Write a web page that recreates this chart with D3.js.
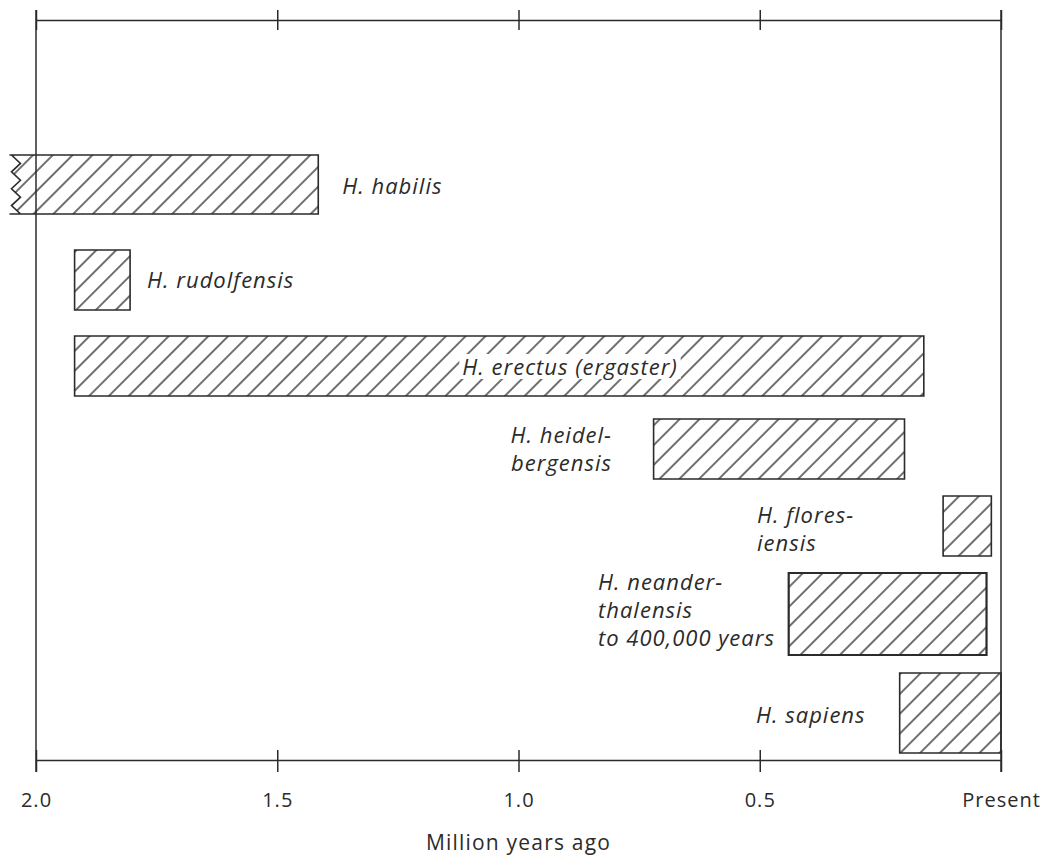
<!DOCTYPE html>
<html>
<head>
<meta charset="utf-8">
<script src="https://cdn.jsdelivr.net/npm/d3@7"></script>
<style>
  body { margin: 0; background: #fff; }
  svg text { font-family: "Open Sans", "Noto Sans", sans-serif; fill: #2b2b2b; }
  .lbl { font-style: italic; font-size: 22px; letter-spacing: 1px; }
  .tick-lbl { font-size: 20px; letter-spacing: 1px; }
  .title { font-size: 21px; letter-spacing: 1.2px; }
</style>
</head>
<body>
<div id="chart"></div>
<script>
// species ranges, million years ago
const species = ["H. habilis", "H. rudolfensis", "H. erectus (ergaster)", "H. heidelbergensis",
                 "H. floresiensis", "H. neanderthalensis", "H. sapiens"];
const startMya = [2.055, 1.92, 1.92, 0.72, 0.12, 0.44, 0.21];
const endMya   = [1.415, 1.805, 0.16, 0.20, 0.02, 0.03, 0];
const labelLines = [
    ["H. habilis"],
    ["H. rudolfensis"],
    ["H. erectus (ergaster)"],
    ["H. heidel-", "bergensis"],
    ["H. flores-", "iensis"],
    ["H. neander-", "thalensis", "to 400,000 years"],
    ["H. sapiens"]
];
const tickValues = [2.0, 1.5, 1.0, 0.5, 0];
const tickLabels = ["2.0", "1.5", "1.0", "0.5", "Present"];
const axisTitle = "Million years ago";

// layout only (pixels)
const W = 1047, H = 856;
const yTop = 20, yBottom = 760;
const rows = [[155, 214], [250, 310], [336, 396], [419, 479], [496, 556], [573, 655], [673, 753]];
// label placement
const labelPos = [
    { side: "right", dx: 24, dy: 1, anchor: "start" },
    { side: "right", dx: 17, dy: 0, anchor: "start" },
    { side: "inside", x: 570, dy: 1, anchor: "middle" },
    { side: "left", x: 612, dy: 0, anchor: "end" },
    { side: "left", x: 757, dy: 3, anchor: "start" },
    { side: "left", x: 598, dy: -4, anchor: "start" },
    { side: "left", x: 756, dy: 2, anchor: "start" }
];
const lineH = 28;
const ink = "#2b2b2b";

const x = d3.scaleLinear().domain([2.0, 0]).range([36, 1001]);

const svg = d3.select("#chart").append("svg")
    .attr("width", W)
    .attr("height", H);

const defs = svg.append("defs");
defs.append("pattern")
    .attr("id", "hatch")
    .attr("patternUnits", "userSpaceOnUse")
    .attr("width", 14)
    .attr("height", 14)
    .attr("patternTransform", "rotate(45)")
    .append("line")
    .attr("x1", 7).attr("x2", 7)
    .attr("y1", 0).attr("y2", 14)
    .attr("stroke", "#222")
    .attr("stroke-width", 1.3);

// frame: top axis, bottom axis and the two verticals
const topAxis = d3.axisTop(x).tickValues(tickValues).tickFormat("").tickSize(10).tickSizeOuter(0);
const gTop = svg.append("g").attr("transform", "translate(0," + yTop + ")").call(topAxis);
gTop.selectAll(".tick line").attr("y2", -10).attr("y1", 10);

const bottomAxis = d3.axisBottom(x).tickValues(tickValues)
    .tickFormat((d, i) => tickLabels[i]).tickSize(12).tickSizeOuter(0);
const gBot = svg.append("g").attr("transform", "translate(0," + yBottom + ")").call(bottomAxis);
gBot.selectAll(".tick line").attr("y1", -10).attr("y2", 12);
gBot.selectAll(".tick text")
    .attr("class", "tick-lbl")
    .attr("y", 47)
    .attr("dy", 0);
gBot.attr("font-family", null).attr("font-size", null);
gTop.attr("font-family", null).attr("font-size", null);

svg.selectAll(".domain, .tick line").attr("stroke", ink).attr("stroke-width", 1.5);

svg.selectAll("line.edge")
    .data([2.0, 0])
    .enter().append("line")
    .attr("class", "edge")
    .attr("x1", d => x(d)).attr("x2", d => x(d))
    .attr("y1", 10).attr("y2", 772)
    .attr("stroke", ink)
    .attr("stroke-width", 1.5);

svg.append("text")
    .attr("class", "title")
    .attr("x", x(1.0))
    .attr("y", 850)
    .attr("text-anchor", "middle")
    .text(axisTitle);

// bars
function barPath(i) {
    const x0 = x(startMya[i]), x1 = x(endMya[i]);
    const y0 = rows[i][0], y1 = rows[i][1];
    if (i !== 0) {
        return "M" + x0 + "," + y0 + "H" + x1 + "V" + y1 + "H" + x0 + "Z";
    }
    // broken (zigzag) left edge for the open-ended range
    const n = 7, amp = 9, lead = 2;
    const pts = [];
    for (let k = 0; k <= n; k++) {
        const yy = y0 + (y1 - y0) * k / n;
        pts.push([x0 + lead + (k % 2 === 0 ? 0 : amp), yy]);
    }
    let p = "M" + x1 + "," + y0 + "V" + y1 + "H" + x0 + "L" + pts[n][0] + "," + pts[n][1];
    for (let k = n - 1; k >= 0; k--) p += "L" + pts[k][0] + "," + pts[k][1];
    p += "L" + x0 + "," + y0 + "Z";
    return p;
}

svg.selectAll("path.bar")
    .data(species)
    .enter().append("path")
    .attr("class", "bar")
    .attr("d", (d, i) => barPath(i))
    .attr("fill", "url(#hatch)")
    .attr("stroke", ink)
    .attr("stroke-width", (d, i) => i === 5 ? 2.2 : 1.6)
    .attr("stroke-linejoin", "miter");

// labels
species.forEach((name, i) => {
    const lp = labelPos[i];
    const lines = labelLines[i];
    const cy = (rows[i][0] + rows[i][1]) / 2;
    const lx = lp.side === "right" ? x(endMya[i]) + lp.dx : lp.x;
    const firstBase = cy - (lines.length - 1) * lineH / 2 + 8 + lp.dy;

    const t = svg.append("text")
        .attr("class", "lbl")
        .attr("text-anchor", lp.anchor);
    lines.forEach((ln, j) => {
        t.append("tspan")
            .attr("x", lx)
            .attr("y", firstBase + j * lineH)
            .text(ln);
    });
    if (lp.side === "inside") {
        const bb = t.node().getBBox();
        svg.insert("rect", function() { return t.node(); })
            .attr("x", bb.x - 3).attr("y", bb.y + 3)
            .attr("width", bb.width + 6).attr("height", bb.height - 5)
            .attr("fill", "#fff");
    }
});
</script>
</body>
</html>
